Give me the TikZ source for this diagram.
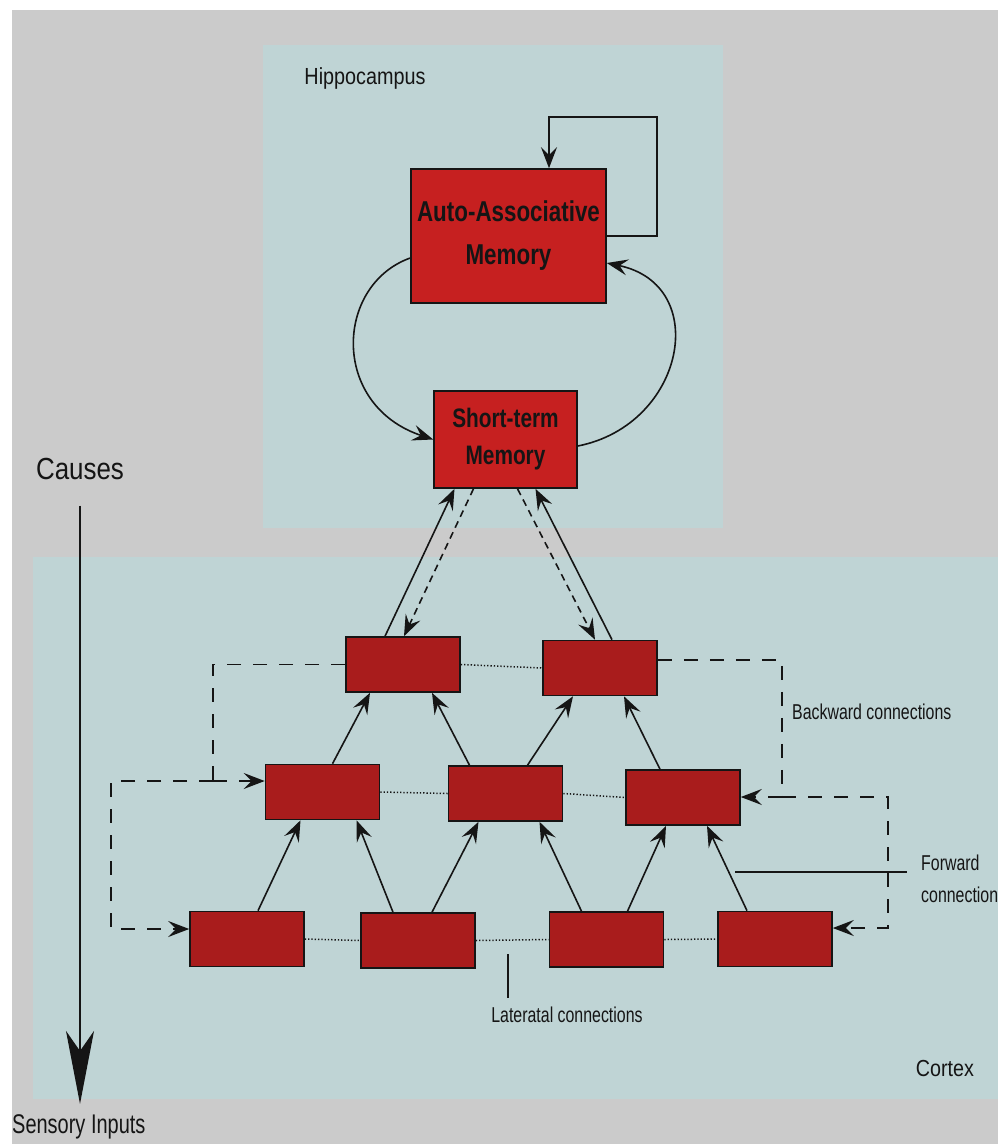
\documentclass[tikz,border=0pt]{standalone}
\usepackage{fontspec}
\usetikzlibrary{arrows.meta,calc}
\setmainfont{Liberation Sans}
\newfontfamily\lblfont[FakeStretch=0.74]{Liberation Sans}
\newfontfamily\widefont[FakeStretch=0.85]{Liberation Sans}
\newfontfamily\boxfont[FakeStretch=0.78]{Liberation Sans Bold}
\definecolor{bggrey}{HTML}{CBCBCB}
\definecolor{panel}{HTML}{BFD4D5}
\definecolor{hotred}{HTML}{C62020}
\definecolor{cellred}{HTML}{A91C1C}
\definecolor{ink}{HTML}{151515}

\begin{document}
\begin{tikzpicture}[x=1pt,y=-1pt,
  cell/.style={draw=ink, line width=1.6pt, fill=cellred, minimum width=114pt, minimum height=55pt, inner sep=0pt},
  membox/.style={draw=ink, line width=1.6pt, fill=hotred, inner sep=0pt, align=center, text=ink},
  conn/.style={draw=ink, line width=1.6pt},
  headtip/.style={-{Stealth[length=21pt,width=16pt,inset=8pt]}},
  fwd/.style={conn, headtip},
  fbdash/.style={conn, headtip, dash pattern=on 7pt off 5pt},
  backdash/.style={conn, line width=1.7pt, dash pattern=on 14pt off 12pt},
  lateral/.style={draw=ink, line width=1.5pt, dash pattern=on 1.3pt off 2pt},
  lbl/.style={text=ink, inner sep=0pt, font=\lblfont\fontsize{21.5}{32}\selectfont},
]
% canvas and the two regions
\fill[white] (0,0) rectangle (998,1144);
\fill[bggrey] (12,10) rectangle (998,1144);
\fill[panel] (263,45) rectangle (723,528);
\fill[panel] (33,557) rectangle (998,1099);
\useasboundingbox (0,0) rectangle (998,1144);

% hippocampal memories
\node[membox, minimum width=195pt, minimum height=134pt,
      font=\boxfont\fontsize{28.7}{43}\selectfont] (aam) at (508.5,236) {Auto-Associative\\Memory};
\node[membox, minimum width=143pt, minimum height=97pt,
      font=\boxfont\fontsize{26.7}{37}\selectfont] (stm) at (505.5,439.5) {Short-term\\Memory};

% cortical hierarchy: top, middle and bottom rows
\node[cell] (t1) at (403,664.5) {};
\node[cell] (t2) at (600,668) {};
\node[cell] (m1) at (322.5,792) {};
\node[cell] (m2) at (505.5,793.5) {};
\node[cell] (m3) at (683,797.5) {};
\node[cell] (b1) at (247,939) {};
\node[cell] (b2) at (418,940.5) {};
\node[cell] (b3) at (606.5,939.5) {};
\node[cell] (b4) at (775,939) {};

% labels
\node[text=ink, inner sep=0pt, font=\widefont\fontsize{23.3}{28}\selectfont] (hippo) at (365,78) {Hippocampus};
\node[text=ink, inner sep=0pt, anchor=base, font=\widefont\fontsize{30.5}{36}\selectfont] (causes) at (80,479) {Causes};
\node[lbl, anchor=base west, font=\lblfont\fontsize{27}{32}\selectfont] (sensory) at (12,1133) {Sensory Inputs};
\node[text=ink, inner sep=0pt, font=\widefont\fontsize{23.2}{28}\selectfont] (cortex) at (945,1068) {Cortex};
\node[lbl, anchor=west] (backlbl) at (792,712) {Backward connections};
\node[lbl, anchor=west, align=left] (fwdlbl) at (921,879) {Forward\\connection};
\node[lbl] (latlbl) at (567,1015) {Lateratal connections};

% causal direction
\draw[ink, line width=2.2pt, -{Stealth[length=73pt,width=28pt,inset=20pt]},
      shorten <=26pt, shorten >=10pt] (causes.south) -- (causes.south |- sensory.north);

% recurrent loop of the auto-associative memory
\coordinate (loopTR) at (657,117);
\draw[fwd] (aam.east) -| (loopTR) -| ($(aam.north)+(40.5,0)$);

% exchange between the two memories
\draw[fwd] ($(aam.west)+(0,22)$) .. controls (335,285) and (330,405) .. (stm.west);
\draw[fwd] ($(stm.east)+(0,6.5)$) .. controls (685,425) and (712,285) .. ($(aam.east)+(0,27)$);

% cortex <-> short-term memory
\draw[fwd] ($(t1.north)+(-18,0)$) -- ($(stm.south)+(-51,0)$);
\draw[fbdash] ($(stm.south)+(-32,0)$) -- ($(t1.north)+(1,0)$);
\draw[fbdash] ($(stm.south)+(12,0)$) -- ($(t2.north)+(-5,0)$);
\draw[fwd] ($(t2.north)+(12,0)$) -- ($(stm.south)+(30,0)$);

% forward connections: middle -> top
\draw[fwd] ($(m1.north)+(10,0)$) -- ($(t1.south)+(-33,0)$);
\draw[fwd] ($(m2.north)+(-36,0)$) -- ($(t1.south)+(29,0)$);
\draw[fwd] ($(m2.north)+(22,0)$) -- ($(t2.south)+(-27,0)$);
\draw[fwd] ($(m3.north)+(-23,0)$) -- ($(t2.south)+(24,0)$);

% forward connections: bottom -> middle
\draw[fwd] ($(b1.north)+(11,0)$) -- ($(m1.south)+(-22,0)$);
\draw[fwd] ($(b2.north)+(-25,0)$) -- ($(m1.south)+(34,0)$);
\draw[fwd] ($(b2.north)+(14,0)$) -- ($(m2.south)+(-27,0)$);
\draw[fwd] ($(b3.north)+(-25,0)$) -- ($(m2.south)+(34,0)$);
\draw[fwd] ($(b3.north)+(21,0)$) -- ($(m3.south)+(-17,0)$);
\draw[fwd] ($(b4.north)+(-28,0)$) -- ($(m3.south)+(24,0)$);

% lateral connections
\draw[lateral] (t1.east) -- (t2.west);
\draw[lateral] (m1.east) -- (m2.west);
\draw[lateral] (m2.east) -- (m3.west);
\draw[lateral] (b1.east) -- (b2.west);
\draw[lateral] (b2.east) -- (b3.west);
\draw[lateral] (b3.east) -- (b4.west);

% backward connections, left side
\coordinate (lb) at (213,781);
\coordinate (lc) at (111,929);
\draw[backdash] (t1.west) -| (lb);
\draw[backdash, headtip] (lb) -- (lb -| m1.west);
\draw[backdash, headtip] (lb) -| (lc) -- (lc -| b1.west);

% backward connections, right side
\coordinate (rb) at (782,797);
\coordinate (rc) at (888,928);
\draw[backdash] ($(t2.east)+(0,-8)$) -| (rb);
\draw[backdash, headtip] (rb) -- (rb -| m3.east);
\draw[backdash, headtip] (rb) -| (rc) -- (rc -| b4.east);

% pointers from the labels
\coordinate (fwdptr) at (735,872);
\draw[conn, shorten >=14pt] (fwdptr) -- (fwdptr -| fwdlbl.west);
\coordinate (latptr) at (508,954);
\draw[conn, shorten >=9pt] (latptr) -- (latptr |- latlbl.north);
\end{tikzpicture}
\end{document}
